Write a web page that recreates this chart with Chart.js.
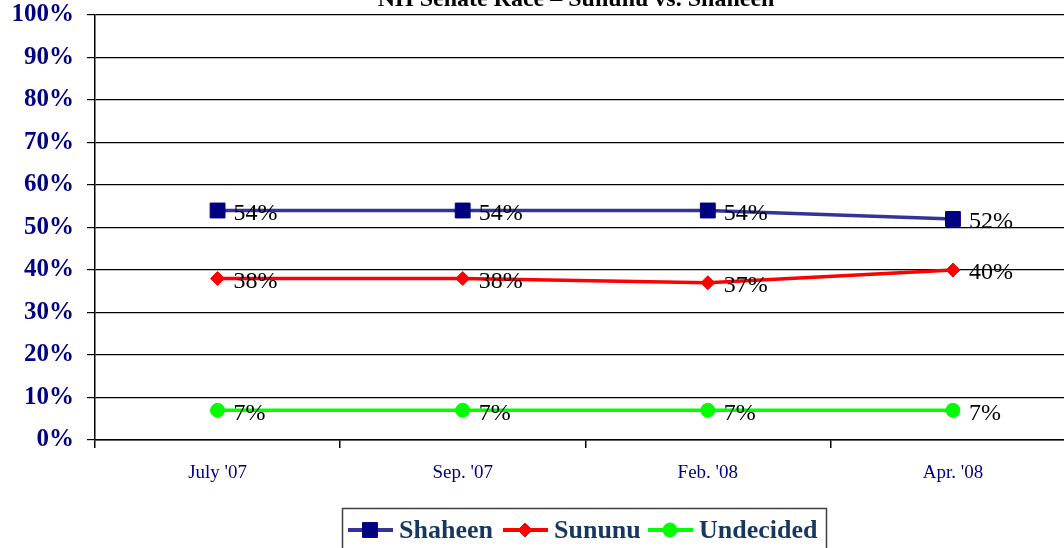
<!DOCTYPE html>
<html>
<head>
<meta charset="utf-8">
<script src="https://cdn.jsdelivr.net/npm/chart.js@4/dist/chart.umd.min.js"></script>
<style>
  html, body { margin: 0; padding: 0; background: #fff; overflow: hidden; }
  #wrap { width: 1064px; height: 548px; overflow: hidden; position: relative; }
  canvas { display: block; }
</style>
</head>
<body>
<div id="wrap"><canvas id="c" width="1087" height="548" style="width:1087px;height:548px"></canvas></div>
<script>
const chartTitle = "NH Senate Race \u2013 Sununu vs. Shaheen";
const categories = ["July '07", "Sep. '07", "Feb. '08", "Apr. '08"];
const shaheen = [54, 54, 54, 52];
const sununu = [38, 38, 37, 40];
const undecided = [7, 7, 7, 7];
const yTicks = [0, 10, 20, 30, 40, 50, 60, 70, 80, 90, 100];

const SERIF = "'Liberation Serif', 'Times New Roman', serif";

const titlePlugin = {
  id: 'cutTitle',
  afterDraw(chart) {
    const ctx = chart.ctx;
    ctx.save();
    ctx.font = "bold 24px " + SERIF;
    ctx.fillStyle = "#000000";
    ctx.textAlign = "center";
    ctx.textBaseline = "alphabetic";
    ctx.fillText(chartTitle, 576, 6);
    ctx.restore();
  }
};

const labelPlugin = {
  id: 'valueLabels',
  afterDatasetsDraw(chart) {
    const ctx = chart.ctx;
    ctx.save();
    ctx.font = "24px " + SERIF;
    ctx.fillStyle = "#000000";
    ctx.textAlign = "left";
    ctx.textBaseline = "middle";
    chart.data.datasets.forEach((ds, i) => {
      const meta = chart.getDatasetMeta(i);
      meta.data.forEach((pt, j) => {
        ctx.fillText(ds.data[j] + "%", pt.x + 16, pt.y + 3);
      });
    });
    ctx.restore();
  }
};

const legendPlugin = {
  id: 'boxLegend',
  afterDraw(chart) {
    const ctx = chart.ctx;
    ctx.save();
    ctx.strokeStyle = "#404040";
    ctx.lineWidth = 1.5;
    ctx.strokeRect(342.5, 508.5, 484, 60);
    const starts = [348, 503, 648];
    const y = 530;
    chart.data.datasets.forEach((ds, i) => {
      const x0 = starts[i];
      ctx.strokeStyle = ds.borderColor;
      ctx.lineWidth = 4;
      ctx.beginPath();
      ctx.moveTo(x0, y);
      ctx.lineTo(x0 + 45, y);
      ctx.stroke();
      ctx.fillStyle = ds.pointBackgroundColor;
      ctx.strokeStyle = ds.pointBorderColor;
      ctx.lineWidth = 1;
      Chart.helpers.drawPoint(ctx, {
        pointStyle: ds.pointStyle,
        radius: ds.pointRadius,
        rotation: 0,
        borderWidth: 1
      }, x0 + 22, y);
      ctx.font = "bold 26px " + SERIF;
      ctx.fillStyle = "#17375E";
      ctx.textAlign = "left";
      ctx.textBaseline = "middle";
      ctx.fillText(ds.label, x0 + 51, y + 1);
    });
    ctx.restore();
  }
};

new Chart(document.getElementById('c'), {
  type: 'line',
  data: {
    labels: categories,
    datasets: [
      {
        label: "Shaheen",
        data: shaheen,
        borderColor: "#333399",
        borderWidth: 3.5,
        pointStyle: "rect",
        pointRadius: 10.5,
        pointBackgroundColor: "#000080",
        pointBorderColor: "#000080",
        pointBorderWidth: 1,
        tension: 0
      },
      {
        label: "Sununu",
        data: sununu,
        borderColor: "#FF0000",
        borderWidth: 3.5,
        pointStyle: "rectRot",
        pointRadius: 7,
        pointBackgroundColor: "#FF0000",
        pointBorderColor: "#FF0000",
        pointBorderWidth: 1,
        tension: 0
      },
      {
        label: "Undecided",
        data: undecided,
        borderColor: "#00FF00",
        borderWidth: 3.5,
        pointStyle: "circle",
        pointRadius: 7,
        pointBackgroundColor: "#00FF00",
        pointBorderColor: "#00FF00",
        pointBorderWidth: 1,
        tension: 0
      }
    ]
  },
  options: {
    responsive: false,
    animation: false,
    devicePixelRatio: 1,
    layout: { padding: { left: 0, top: 15, right: 0, bottom: 58 } },
    plugins: {
      legend: { display: false },
      title: { display: false },
      tooltip: { enabled: false }
    },
    scales: {
      x: {
        type: 'category',
        offset: true,
        grid: {
          offset: true,
          drawOnChartArea: false,
          drawTicks: true,
          tickLength: 8,
          color: "#000000",
          lineWidth: 1.5
        },
        border: { display: true, color: "#000000", width: 1.5 },
        ticks: {
          color: "#000080",
          font: { family: SERIF, size: 19 },
          padding: 14,
          maxRotation: 0,
          autoSkip: false
        },
        afterFit(scale) {
          scale.height = 50;
          scale.paddingLeft = 0; scale.paddingRight = 0;
          scale.paddingTop = 0; scale.paddingBottom = 0;
        }
      },
      y: {
        min: 0,
        max: 100,
        afterBuildTicks(scale) { scale.ticks = yTicks.map(v => ({ value: v })); },
        grid: {
          color: "#000000",
          lineWidth: 1.2,
          drawTicks: true,
          tickLength: 8
        },
        border: { display: true, color: "#000000", width: 1.5 },
        ticks: {
          color: "#000080",
          font: { family: SERIF, size: 25, weight: 'bold' },
          padding: 13,
          callback: (v) => v + "%"
        },
        afterFit(scale) {
          scale.width = 95;
          scale.paddingTop = 0; scale.paddingBottom = 0;
          scale.paddingLeft = 0; scale.paddingRight = 0;
        }
      }
    }
  },
  plugins: [titlePlugin, labelPlugin, legendPlugin]
});
</script>
</body>
</html>
